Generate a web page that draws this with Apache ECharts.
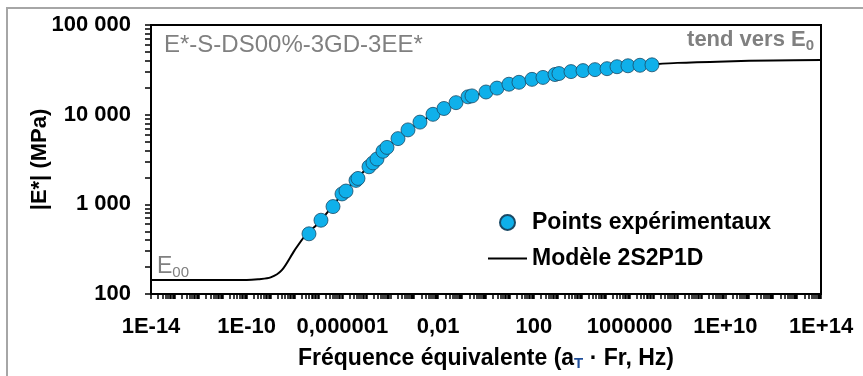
<!DOCTYPE html>
<html>
<head>
<meta charset="utf-8">
<script src="https://cdn.jsdelivr.net/npm/echarts@6/dist/echarts.min.js"></script>
<style>
html,body{margin:0;padding:0;background:#fff;}
#chart{width:863px;height:376px;}
</style>
</head>
<body>
<div id="chart"></div>
<script>
// Experimental points: equivalent frequency (Hz) and |E*| (MPa)
const pointFreq = [4.0e-8,1.27e-7,4.04e-7,9.6e-7,1.41e-6,3.69e-6,4.47e-6,1.29e-5,1.89e-5,2.78e-5,4.95e-5,7.28e-5,2.1e-4,5.5e-4,1.74e-3,6.08e-3,1.75e-2,5.57e-2,0.177,0.259,1.0,2.88,9.1,23.9,83.4,240,764,1120,3560,11300,35800,114000,298000,857000,2.72e6,8.63e6];
const pointModulus = [469,665,944,1306,1407,1850,1944,2624,2898,3201,3908,4316,5404,6763,8257,10090,11720,13610,15810,16190,17900,19780,21850,22960,24760,26030,28040,28760,30210,30990,31780,32580,34260,35100,35550,35970];
// 2S2P1D model curve
const modelFreq = [1e-14,1e-12,1e-10,3e-10,1e-9,3e-9,1e-8,3e-8,1e-7,1e-6,1e-5,1e-4,1e-3,1e-2,1e-1,1,10,100,1e3,1e4,1e5,1e6,1e7,1e8,1e10,1e12,1e14];
const modelModulus = [143,143,143,146,153,186,307,460,618,1306,2494,4656,7480,10740,14490,17900,21590,24760,27700,30600,32580,34670,36380,37810,39260,40270,40740];
// Axis ticks and labels
const xTickValues = [1e-14,1e-10,1e-6,1e-2,1e2,1e6,1e10,1e14];
const xTickLabels = ['1E-14','1E-10','0,000001','0,01','100','1000000','1E+10','1E+14'];
const yTickValues = [100,1000,10000,100000];
const yTickLabels = ['100','1 000','10 000','100 000'];

const xMinor = [];
for (let e = -14; e < 14; e++) { for (let k = 1; k <= 9; k++) xMinor.push(k * Math.pow(10, e)); }
xMinor.push(1e14);
const yMinor = [];
for (let e = 2; e < 5; e++) { for (let k = 1; k <= 9; k++) yMinor.push(k * Math.pow(10, e)); }
yMinor.push(100000);

function lookup(vals, labels, v) {
  const lv = Math.log10(v);
  for (let i = 0; i < vals.length; i++) if (Math.abs(Math.log10(vals[i]) - lv) < 1e-6) return labels[i];
  return '';
}

const FONT = '"Liberation Sans", Arial, sans-serif';
const GREY = '#808080';
const chart = echarts.init(document.getElementById('chart'));
chart.setOption({
  animation: false,
  backgroundColor: '#fff',
  grid: { left: 151, top: 25, right: 42, bottom: 74, show: true, borderColor: '#000', borderWidth: 2, backgroundColor: 'transparent' },
  xAxis: {
    type: 'log', logBase: 10, min: 1e-14, max: 1e14,
    axisLine: { lineStyle: { color: '#000', width: 2 } },
    axisTick: { show: true, length: 5, customValues: xMinor, lineStyle: { color: '#000', width: 1.5 } },
    splitLine: { show: false },
    minorTick: { show: false },
    axisLabel: {
      customValues: xTickValues, margin: 22, color: '#000', fontFamily: FONT, fontWeight: 'bold', fontSize: 22,
      formatter: v => lookup(xTickValues, xTickLabels, v)
    },
    name: '{t|Fréquence équivalente (a}{s|T}{t| · Fr, Hz)}',
    nameLocation: 'middle', nameGap: 52, nameMoveOverlap: false,
    nameTextStyle: {
      rich: {
        t: { fontFamily: FONT, fontWeight: 'bold', fontSize: 23, color: '#000' },
        s: { fontFamily: FONT, fontWeight: 'bold', fontSize: 15, color: '#1f4e9a', verticalAlign: 'bottom', padding: [10, 0, 0, 0] }
      }
    }
  },
  yAxis: {
    type: 'log', logBase: 10, min: 100, max: 100000,
    axisLine: { lineStyle: { color: '#000', width: 2 } },
    axisTick: { show: true, length: 6, customValues: yMinor, lineStyle: { color: '#000', width: 1.5 } },
    splitLine: { show: false },
    axisLabel: {
      customValues: yTickValues, margin: 20, color: '#000', fontFamily: FONT, fontWeight: 'bold', fontSize: 22,
      formatter: v => lookup(yTickValues, yTickLabels, v)
    },
    name: '|E*| (MPa)', nameLocation: 'middle', nameGap: 100, nameRotate: 90, nameMoveOverlap: false,
    nameTextStyle: { fontFamily: FONT, fontWeight: 'bold', fontSize: 22, color: '#000' }
  },
  legend: {
    orient: 'vertical', left: 488, top: 211, padding: 0, itemWidth: 39, itemHeight: 15, itemGap: 13,
    symbolKeepAspect: true,
    textStyle: { fontFamily: FONT, fontWeight: 'bold', fontSize: 23, color: '#000' },
    data: [
      { name: 'Points expérimentaux' },
      { name: 'Modèle 2S2P1D', icon: 'path://M0,0 L39,0 L39,2 L0,2 Z', itemStyle: { color: '#000' } }
    ]
  },
  series: [
    {
      name: 'Modèle 2S2P1D', type: 'line', symbol: 'none', smooth: 0.3, z: 2,
      lineStyle: { color: '#000', width: 2 }, itemStyle: { color: '#000' },
      data: modelFreq.map((f, i) => [f, modelModulus[i]])
    },
    {
      name: 'Points expérimentaux', type: 'scatter', symbol: 'circle', symbolSize: 14, z: 3,
      itemStyle: { color: '#0FB0EA', borderColor: '#1a4a66', borderWidth: 0.8, opacity: 1 },
      data: pointFreq.map((f, i) => [f, pointModulus[i]])
    }
  ],
  graphic: [
    { type: 'rect', silent: true, z: 100, shape: { x: 7, y: 8, width: 900, height: 400 }, style: { fill: null, stroke: '#a6a6a6', lineWidth: 2 } },
    { type: 'text', left: 164, top: 33, z: 50, style: { text: 'E*-S-DS00%-3GD-3EE*', fill: GREY, font: '24px ' + FONT } },
    { type: 'text', left: 157, top: 255, z: 50, style: {
        text: '{a|E}{b|00}',
        rich: { a: { fill: GREY, fontSize: 23, fontFamily: FONT }, b: { fill: GREY, fontSize: 15, fontFamily: FONT, verticalAlign: 'bottom', padding: [12, 0, 0, 0] } }
      } },
    { type: 'text', right: 49, top: 29, z: 50, style: {
        text: '{a|tend vers E}{b|0}',
        rich: { a: { fill: GREY, fontSize: 22, fontWeight: 'bold', fontFamily: FONT }, b: { fill: GREY, fontSize: 15, fontWeight: 'bold', fontFamily: FONT, verticalAlign: 'bottom', padding: [12, 0, 0, 0] } }
      } }
  ]
});
</script>
</body>
</html>
